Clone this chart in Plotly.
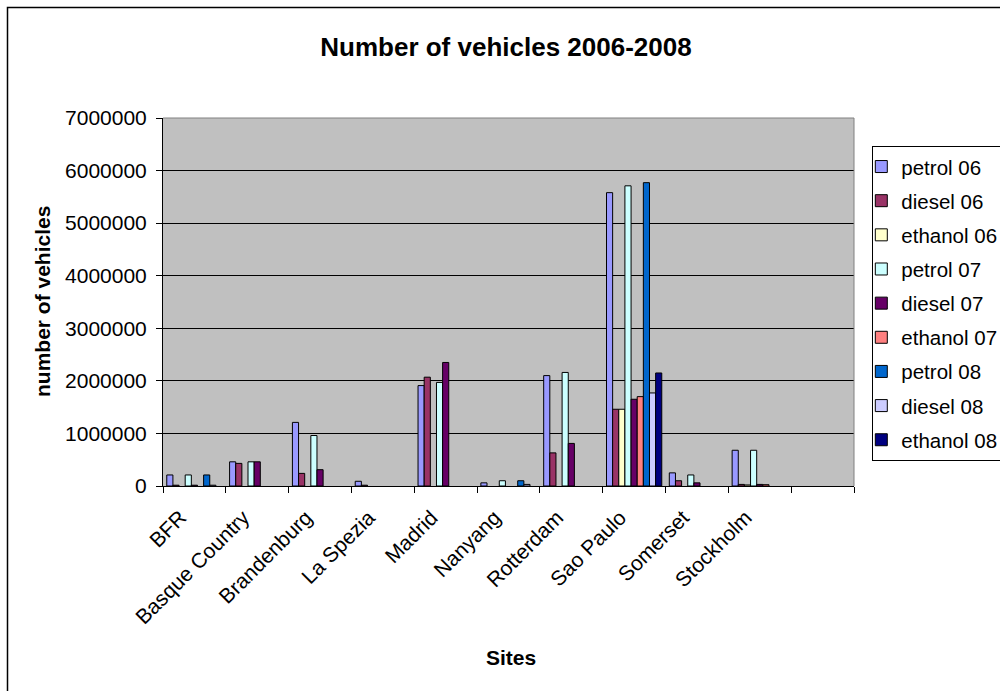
import plotly.graph_objects as go

sites = ["BFR", "Basque Country", "Brandenburg", "La Spezia", "Madrid",
         "Nanyang", "Rotterdam", "Sao Paulo", "Somerset", "Stockholm"]
axis_categories = sites + [" "]

series_names = ["petrol 06", "diesel 06", "ethanol 06",
                "petrol 07", "diesel 07", "ethanol 07",
                "petrol 08", "diesel 08", "ethanol 08"]

petrol_06 = [210000, 460000, 1210000, 90000, 1910000, 60000, 2100000, 5580000, 250000, 680000]
diesel_06 = [15000, 430000, 240000, 15000, 2070000, None, 630000, 1460000, 100000, 30000]
ethanol_06 = [None, None, None, None, None, None, None, 1460000, None, 20000]
petrol_07 = [210000, 460000, 960000, None, 1970000, 100000, 2160000, 5710000, 210000, 680000]
diesel_07 = [15000, 460000, 310000, None, 2350000, None, 810000, 1650000, 60000, 30000]
ethanol_07 = [None, None, None, None, None, None, None, 1700000, None, 25000]
petrol_08 = [210000, None, None, None, None, 100000, None, 5770000, None, None]
diesel_08 = [15000, None, None, None, None, 30000, None, 1770000, None, None]
ethanol_08 = [None, None, None, None, None, None, None, 2150000, None, None]

series_values = [petrol_06, diesel_06, ethanol_06, petrol_07, diesel_07,
                 ethanol_07, petrol_08, diesel_08, ethanol_08]

colors = ["#9999FF", "#993366", "#FFFFCC", "#CCFFFF", "#660066",
          "#FF8080", "#0066CC", "#CCCCFF", "#000080"]

y_ticks = [0, 1000000, 2000000, 3000000, 4000000, 5000000, 6000000, 7000000]

FONT = "Arial, Liberation Sans, sans-serif"

fig = go.Figure()
for name, vals, col in zip(series_names, series_values, colors):
    fig.add_trace(go.Bar(
        x=axis_categories, y=vals + [None], name=name, legendgroup=name,
        marker=dict(color=col, line=dict(color="black", width=1)),
    ))

fig.update_layout(
    width=1000, height=691,
    margin=dict(l=163, r=146, t=118, b=205, autoexpand=False),
    paper_bgcolor="white", plot_bgcolor="#C0C0C0",
    barmode="group", bargap=0.12, bargroupgap=0,
    font=dict(family=FONT, color="black", size=20),
    title=dict(text="<b>Number of vehicles 2006-2008</b>", x=0.506, xref="container",
               y=1 - 47 / 691, yref="container", xanchor="center", yanchor="middle",
               font=dict(family=FONT, size=26, color="black")),
    showlegend=True,
    legend=dict(x=1.0265, y=0.9247, xanchor="left", yanchor="top",
                xref="paper", yref="paper",
                bordercolor="black", borderwidth=1, bgcolor="white",
                font=dict(family=FONT, size=20.5, color="black"),
                indentation=-12,
                traceorder="grouped", tracegroupgap=4.5),
    xaxis=dict(type="category", categoryorder="array", categoryarray=axis_categories,
               range=[-0.5, len(axis_categories) - 0.5],
               tickson="boundaries", ticks="outside", ticklen=6, tickcolor="black",
               tickangle=-45, showline=True, linecolor="black", linewidth=1,
               ticklabelstandoff=10, ticklabelshift=-14,
               showgrid=False, tickfont=dict(family=FONT, size=21, color="black")),
    yaxis=dict(range=[0, 7000000], tickvals=y_ticks, ticktext=[str(v) for v in y_ticks],
               ticks="outside", ticklen=6, tickcolor="black",
               showline=True, linecolor="black", linewidth=1,
               showgrid=True, gridcolor="black", gridwidth=1,
               ticklabelstandoff=5,
               zeroline=False, tickfont=dict(family=FONT, size=21, color="black")),
    annotations=[
        dict(text="<b>number of vehicles</b>", xref="paper", yref="paper",
             x=(42 - 163) / 691, y=0.5, textangle=-90, showarrow=False,
             xanchor="center", yanchor="middle",
             font=dict(family=FONT, size=21, color="black")),
        dict(text="<b>Sites</b>", xref="paper", yref="paper",
             x=(511 - 163) / 691, y=(486 - 657) / 368, showarrow=False,
             xanchor="center", yanchor="middle",
             font=dict(family=FONT, size=21, color="black")),
    ],
    shapes=[
        dict(type="line", xref="x domain", yref="y domain", x0=0, x1=1, y0=1, y1=1,
             line=dict(color="#808080", width=1), layer="above"),
        dict(type="line", xref="x domain", yref="y domain", x0=1, x1=1, y0=0, y1=1,
             line=dict(color="#808080", width=1), layer="above"),
        dict(type="rect", xref="paper", yref="paper",
             x0=(7.5 - 163) / 691, x1=2.0, y0=-2.0, y1=(486 - 7.5) / 368,
             line=dict(color="black", width=1.5), layer="below"),
    ],
)

fig.write_html("out.html")
